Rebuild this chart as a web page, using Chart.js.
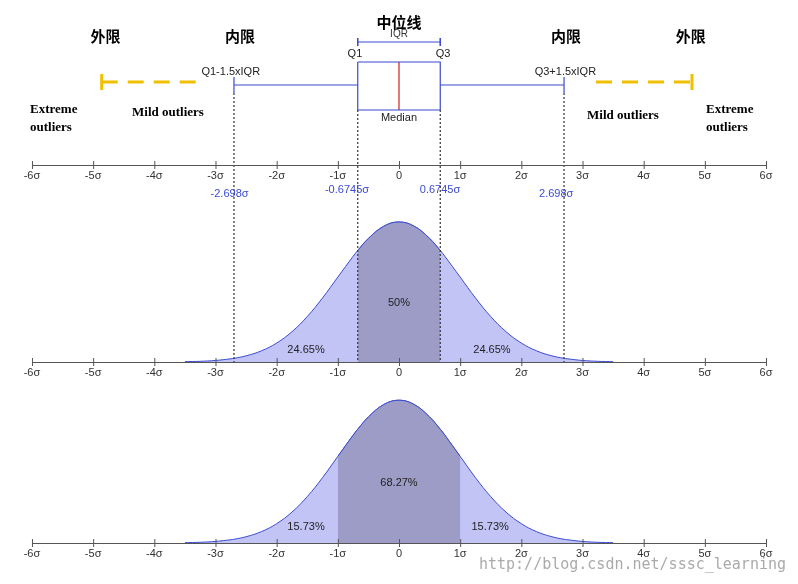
<!DOCTYPE html>
<html><head><meta charset="utf-8">
<script src="https://cdn.jsdelivr.net/npm/chart.js@4/dist/chart.umd.min.js"></script>
<style>html,body{margin:0;padding:0;background:#fff}#w{width:798px;height:584px}</style>
</head><body><div id="w"><canvas id="c"></canvas></div>
<script>
// sigma ticks
const tickValues = [-6,-5,-4,-3,-2,-1,0,1,2,3,4,5,6];
const tickLabels = ["-6σ","-5σ","-4σ","-3σ","-2σ","-1σ","0","1σ","2σ","3σ","4σ","5σ","6σ"];
// normal curve (density)
const curveX = [-3.5,-3.25,-3,-2.75,-2.698,-2.5,-2.25,-2,-1.75,-1.5,-1.25,-1,-0.75,-0.6745,-0.5,-0.25,0,0.25,0.5,0.6745,0.75,1,1.25,1.5,1.75,2,2.25,2.5,2.698,2.75,3,3.25,3.5];
const curveY = [0.0009,0.0020,0.0044,0.0091,0.0104,0.0175,0.0317,0.0540,0.0863,0.1295,0.1826,0.2420,0.3011,0.3178,0.3521,0.3867,0.3989,0.3867,0.3521,0.3178,0.3011,0.2420,0.1826,0.1295,0.0863,0.0540,0.0317,0.0175,0.0104,0.0091,0.0044,0.0020,0.0009];
// boxplot quantities (sigma units)
const q1 = -0.6745, q3 = 0.6745, median = 0, lowFence = -2.698, highFence = 2.698;
const outerLow = -4.86, outerHigh = 4.79;
const midShare = ["50%","24.65%","24.65%"];
const lowShare = ["68.27%","15.73%","15.73%"];
const bottomCenterLo = -1, bottomCenterHi = 1;

const ax1=165, ax2=362, ax3=543, k2=351, k3=358;
const pts=(lo,hi,base,k)=>curveX.map((x,i)=>({x,y:base-curveY[i]*k})).filter(p=>p.x>=lo-1e-9&&p.x<=hi+1e-9);
const seg=(a,b)=>a.concat([{x:NaN,y:NaN}],b);
const blue='#3b4bd0', yel='#f0c000';
const ds=[
 {data:pts(-4,4,ax2,k2),fill:{value:ax2},backgroundColor:'#c2c4f6',borderColor:blue,borderWidth:1,order:5},
 {data:pts(q1,q3,ax2,k2),fill:{value:ax2},backgroundColor:'#9c9cc6',borderColor:blue,borderWidth:1,order:1},
 {data:pts(-4,4,ax3,k3),fill:{value:ax3},backgroundColor:'#c2c4f6',borderColor:blue,borderWidth:1,order:5},
 {data:pts(bottomCenterLo,bottomCenterHi,ax3,k3),fill:{value:ax3},backgroundColor:'#9c9cc6',borderColor:blue,borderWidth:1,order:1},
 {data:[{x:q1,y:62},{x:q3,y:62},{x:q3,y:110},{x:q1,y:110},{x:q1,y:62}],borderColor:blue,borderWidth:1.2,tension:0},
 {data:[{x:median,y:62},{x:median,y:110}],borderColor:'#d02020',borderWidth:1.2,tension:0},
 {data:seg([{x:lowFence,y:85},{x:q1,y:85}],[{x:q3,y:85},{x:highFence,y:85}]),borderColor:blue,borderWidth:1.2,tension:0},
 {data:seg([{x:lowFence,y:77},{x:lowFence,y:93}],[{x:highFence,y:77},{x:highFence,y:93}]),borderColor:blue,borderWidth:1.2,tension:0},
 {data:[{x:q1,y:42},{x:q3,y:42}],borderColor:blue,borderWidth:1,tension:0},
 {data:seg([{x:q1,y:38},{x:q1,y:46}],[{x:q3,y:38},{x:q3,y:46}]),borderColor:blue,borderWidth:1,tension:0},
 {data:seg([{x:outerLow,y:82},{x:-3.16,y:82}],[{x:3.22,y:82},{x:outerHigh,y:82}]),borderColor:yel,borderWidth:3,borderDash:[16,10],tension:0},
 {data:seg([{x:outerLow,y:74},{x:outerLow,y:90}],[{x:outerHigh,y:74},{x:outerHigh,y:90}]),borderColor:yel,borderWidth:3,tension:0},
 {data:seg(seg([{x:lowFence,y:93},{x:lowFence,y:ax2}],[{x:q1,y:110},{x:q1,y:ax2}]),seg([{x:q3,y:110},{x:q3,y:ax2}],[{x:highFence,y:93},{x:highFence,y:ax2}])),borderColor:'#333',borderWidth:1.2,borderDash:[2,2],tension:0,order:0},
].map(d=>Object.assign({pointRadius:0,tension:0.4,fill:false,order:2},d));

const deco={id:'deco',afterDatasetsDraw(ch){
 const c=ch.ctx,x=ch.scales.x,px=v=>x.getPixelForValue(v);
 c.save();
 [ax1,ax2,ax3].forEach(y=>{
  c.strokeStyle='#555';c.lineWidth=1;c.beginPath();c.moveTo(px(-6),y+0.5);c.lineTo(px(6),y+0.5);
  tickValues.forEach(t=>{c.moveTo(px(t)+0.5,y-4);c.lineTo(px(t)+0.5,y+4);});c.stroke();
  c.fillStyle='#333';c.font='11px Arial';c.textAlign='center';c.textBaseline='top';
  tickValues.forEach((t,i)=>c.fillText(tickLabels[i],px(t),y+5));
 });
 const T=(s,xv,y,f,col,al,raw)=>{c.font=f;c.fillStyle=col||'#000';c.textAlign=al||'center';c.textBaseline='middle';c.fillText(s,raw?xv:px(xv),y);};
 const cj='bold 15px "Noto Sans CJK SC"';
 T('外限',-4.8,36,cj);T('内限',-2.6,36,cj);T('中位线',0,22,cj);T('内限',2.73,36,cj);T('外限',4.77,36,cj);
 T('IQR',0,34,'10px Arial','#333');T('Q1',-0.72,54,'11px Arial','#222');T('Q3',0.72,54,'11px Arial','#222');
 T('Median',0,118,'11px Arial','#222');
 T('Q1-1.5xIQR',-2.75,72,'11px Arial','#222');T('Q3+1.5xIQR',2.72,72,'11px Arial','#222');
 const sf='bold 13px "Liberation Serif"';
 T('Extreme',30,110,sf,'#000','left',1);T('outliers',30,128,sf,'#000','left',1);
 T('Mild outliers',132,113,sf,'#000','left',1);T('Mild outliers',587,116,sf,'#000','left',1);
 T('Extreme',706,110,sf,'#000','left',1);T('outliers',706,128,sf,'#000','left',1);
 const bf='11px Arial';
 T('-2.698σ',-2.77,194,bf,blue);T('-0.6745σ',-0.85,190,bf,blue);T('0.6745σ',0.67,190,bf,blue);T('2.698σ',2.57,194,bf,blue);
 T(midShare[0],0,303,'11px Arial','#222');T(midShare[1],-1.52,350,'11px Arial','#222');T(midShare[2],1.52,350,'11px Arial','#222');
 T(lowShare[0],0,483,'11px Arial','#222');T(lowShare[1],-1.52,527,'11px Arial','#222');T(lowShare[2],1.49,527,'11px Arial','#222');
 T('http://blog.csdn.net/sssc_learning',786,565,'15px "DejaVu Sans Mono"','#aaa','right',1);
 c.restore();
}};
new Chart(document.getElementById('c'),{type:'line',data:{datasets:ds},plugins:[deco],
 options:{responsive:true,maintainAspectRatio:false,animation:false,layout:{padding:0},
  plugins:{legend:{display:false},tooltip:{enabled:false}},
  scales:{x:{type:'linear',display:false,min:-399/61.17,max:399/61.17},
          y:{type:'linear',display:false,min:0,max:584,reverse:true}}}});
</script></body></html>
